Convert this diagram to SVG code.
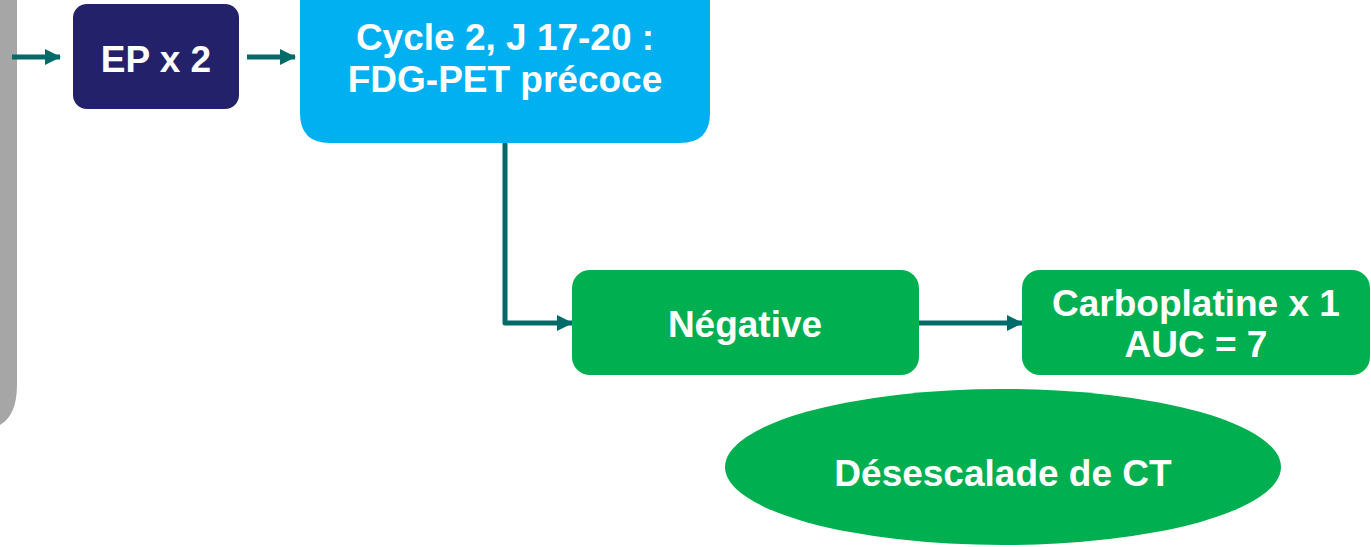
<svg xmlns="http://www.w3.org/2000/svg" width="1371" height="547" viewBox="0 0 1371 547">
  <defs>
    <marker id="arrow" viewBox="0 0 16 16" refX="15" refY="8" markerWidth="16" markerHeight="16" orient="auto" markerUnits="userSpaceOnUse">
      <path d="M0,0 L16,8 L0,16 z" fill="#006B68"/>
    </marker>
    <style>
      .lbl { font-family: "Liberation Sans", Arial, sans-serif; font-weight: bold; fill: #FFFFFF; text-anchor: middle; font-size: 37px; }
      .conn { stroke: #006B68; stroke-width: 5; fill: none; marker-end: url(#arrow); }
      .green { fill: #00B050; }
    </style>
  </defs>

  <rect width="1371" height="547" fill="#FFFFFF"/>

  <!-- side bar -->
  <path id="sidebar" d="M-10,-10 H17 V385 Q17,415 0,425 H-10 Z" fill="#A6A6A6"/>

  <g id="connectors">
    <line class="conn" x1="12" y1="57" x2="60" y2="57"/>
    <line class="conn" x1="247" y1="57" x2="295" y2="57"/>
    <path class="conn" d="M505,143 V323 H572" stroke-linejoin="round"/>
    <line class="conn" x1="919" y1="323" x2="1022" y2="323"/>
  </g>

  <g id="ep">
    <rect x="73" y="4" width="166" height="105" rx="14" fill="#23216A"/>
    <text class="lbl" x="156" y="72">EP x 2</text>
  </g>

  <g id="cycle2">
    <path d="M300,-20 H710 V113 Q710,143 680,143 H330 Q300,143 300,113 Z" fill="#00B0F0"/>
    <text class="lbl" x="505" y="50">Cycle 2, J 17-20 :</text>
    <text class="lbl" x="505" y="92">FDG-PET précoce</text>
  </g>

  <g id="negative">
    <rect class="green" x="572" y="270" width="347" height="105" rx="18"/>
    <text class="lbl" x="745" y="337">Négative</text>
  </g>

  <g id="carboplatine">
    <rect class="green" x="1022" y="270" width="348" height="105" rx="18"/>
    <text class="lbl" x="1196" y="316">Carboplatine x 1</text>
    <text class="lbl" x="1196" y="357">AUC = 7</text>
  </g>

  <g id="desescalade">
    <ellipse class="green" cx="1003" cy="467" rx="278" ry="78"/>
    <text class="lbl" x="1003" y="486">Désescalade de CT</text>
  </g>
</svg>
